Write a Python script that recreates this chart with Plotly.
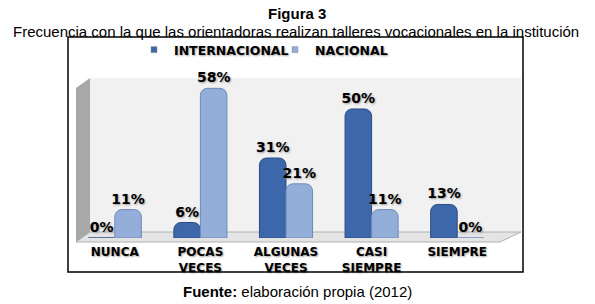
import plotly.graph_objects as go

categories = ["NUNCA", "POCAS<br>VECES", "ALGUNAS<br>VECES", "CASI<br>SIEMPRE", "SIEMPRE"]
internacional = [0, 6, 31, 50, 13]
nacional = [11, 58, 21, 11, 0]
series_names = ["INTERNACIONAL", "NACIONAL"]
colors = ["#3c67aa", "#93aed8"]
edge_colors = ["#2b4c82", "#6e8abb"]

# plot area in pixels: x 72..500, y 78..238
L, R, T, B = 72, 500, 78, 238
W, H = 595, 304
pw, ph = R - L, B - T


def px(x):
    return (x - L) / pw


def py(y):
    return (B - y) / ph


bold_font = "DejaVu Sans, Arial Black, sans-serif"
shadow = "1px 1px 2px #a0a0a0"

fig = go.Figure()
for name, vals, c, ec in zip(series_names, [internacional, nacional], colors, edge_colors):
    fig.add_bar(x=categories, y=vals, name=name, showlegend=False,
                marker=dict(color=c, line=dict(color=ec, width=1), cornerradius=7),
                text=[f"{v}%" for v in vals], textposition="outside", cliponaxis=False,
                constraintext="none",
                textfont=dict(family=bold_font, size=14, color="black", weight="bold", shadow=shadow))
for name, c in zip(series_names, colors):
    fig.add_scatter(x=[None], y=[None], mode="markers", name=name,
                    marker=dict(symbol="square", size=6, color=c, line=dict(color="#888", width=0.5)))

shapes = [
    dict(type="rect", xref="paper", yref="paper", x0=px(90), x1=px(521), y0=py(232), y1=py(78),
         fillcolor="#f1f1f1", line=dict(width=0), layer="below"),
    dict(type="path", xref="paper", yref="paper",
         path=f"M {px(76)} {py(88)} L {px(90)} {py(78)} L {px(90)} {py(232)} L {px(76)} {py(242)} Z",
         fillcolor="#a8a8a8", line=dict(width=0), layer="below"),
    dict(type="path", xref="paper", yref="paper",
         path=f"M {px(76)} {py(242)} L {px(90)} {py(232)} L {px(521)} {py(232)} L {px(500)} {py(242)} Z",
         fillcolor="#e4e4e4", line=dict(color="#b0b0b0", width=1), layer="below"),
    dict(type="rect", xref="paper", yref="paper", x0=px(68), x1=px(523), y0=py(272), y1=py(37),
         fillcolor="rgba(0,0,0,0)", line=dict(color="black", width=1.5)),
]

plain = "Arial, Liberation Sans, sans-serif"
annotations = [
    dict(text="<b>Figura 3</b>", xref="paper", yref="paper", x=px(297), y=py(13), showarrow=False,
         xanchor="center", yanchor="middle", font=dict(family=plain, size=15, color="black")),
    dict(text="Frecuencia con la que las orientadoras realizan talleres vocacionales en la institución",
         xref="paper", yref="paper", x=px(296), y=py(31), showarrow=False,
         xanchor="center", yanchor="middle", font=dict(family=plain, size=15, color="black")),
    dict(text="<b>Fuente:</b> elaboración propia (2012)", xref="paper", yref="paper",
         x=px(297), y=py(291), showarrow=False,
         xanchor="center", yanchor="middle", font=dict(family=plain, size=15, color="black")),
]

fig.update_layout(
    width=W, height=H,
    margin=dict(l=L, r=W - R, t=T, b=H - B, autoexpand=False),
    paper_bgcolor="white", plot_bgcolor="rgba(0,0,0,0)",
    barmode="group", bargap=0.38, bargroupgap=0.0,
    showlegend=True,
    legend=dict(orientation="h", xanchor="left", x=px(134), yanchor="middle", y=py(50),
                entrywidth=96, entrywidthmode="pixels",
                font=dict(family=bold_font, size=12.5, color="black", weight="bold", shadow=shadow),
                itemwidth=30, tracegroupgap=0, bgcolor="rgba(0,0,0,0)"),
    xaxis=dict(showgrid=False, showline=False, ticks="", ticklabelstandoff=5,
               tickfont=dict(family=bold_font, size=12, color="black", weight="bold", shadow=shadow)),
    yaxis=dict(range=[0, 62], showgrid=False, showticklabels=False, zeroline=False, showline=False),
    shapes=shapes, annotations=annotations,
    font=dict(family=plain),
)

fig.write_html("out.html", config={"displayModeBar": False},
               post_script="document.body.style.margin='0';")
